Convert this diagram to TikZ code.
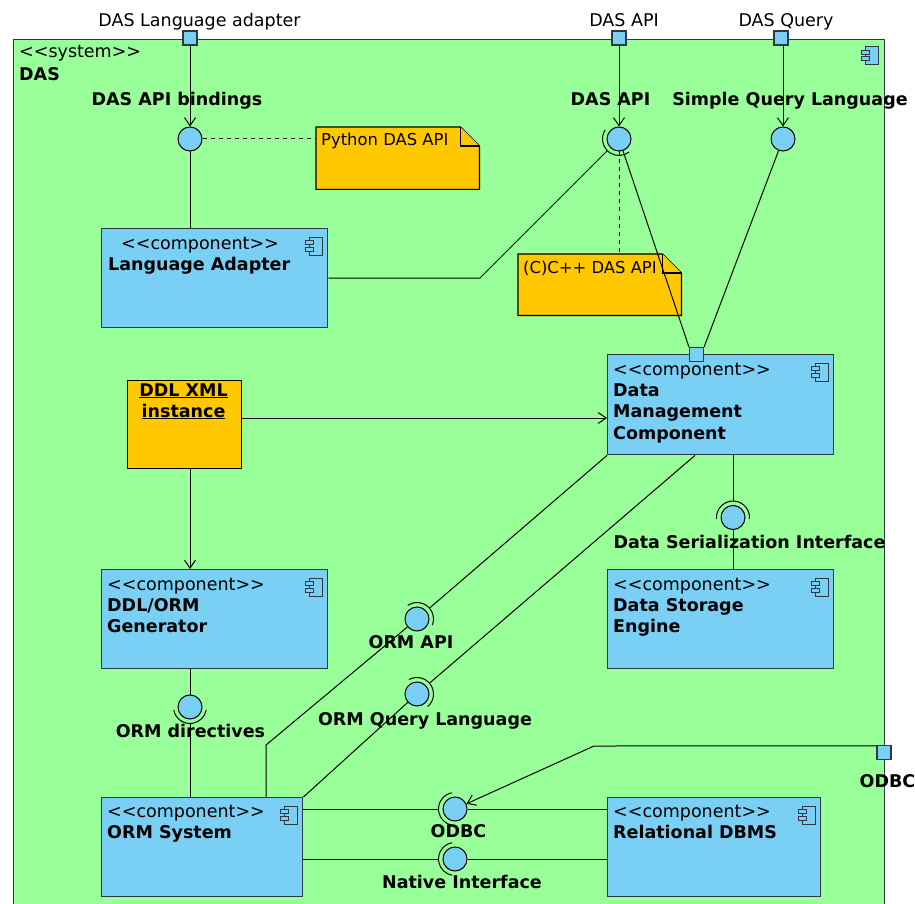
\documentclass[tikz,border=0pt]{standalone}
\usepackage{fontspec}
\setmainfont{DejaVu Sans}
\usetikzlibrary{arrows.meta,calc}
\definecolor{dasgreen}{HTML}{99FF99}
\definecolor{compblue}{HTML}{7ACFF5}
\definecolor{noteorange}{HTML}{FFC800}
\definecolor{edgegray}{HTML}{2E3742}
% UML stereotype brackets, kept apart so they are not turned into guillemets
\newcommand{\stereo}[1]{<\kern0pt<#1>\kern0pt>}
\begin{document}
\begin{tikzpicture}[x=1pt,y=-1pt,
  every node/.style={font=\fontsize{17.5}{21.5}\selectfont},
  frame/.style={draw=edgegray, fill=dasgreen, line width=1.4pt, anchor=north west,
    inner sep=0, minimum width=871pt, minimum height=900pt},
  comp/.style={draw=edgegray, fill=compblue, line width=1.4pt, anchor=north west,
    inner sep=0, minimum width=226pt, minimum height=99pt},
  port/.style={draw=edgegray, fill=compblue, line width=1.2pt, inner sep=0, minimum size=14pt},
  iface/.style={draw=black, fill=compblue, line width=1pt, circle, inner sep=0, minimum size=24pt},
  txt/.style={anchor=base west, inner sep=0},
  ttl/.style={anchor=base west, inner sep=0, font=\fontsize{17.5}{21.5}\selectfont\bfseries},
  ilabel/.style={anchor=base, inner sep=0, font=\fontsize{17.5}{21.5}\selectfont\bfseries},
  plabel/.style={anchor=base, inner sep=0},
  wire/.style={draw=black, line width=1pt},
  dep/.style={wire, -{Straight Barb[length=8pt,width=11pt]}},
  noteline/.style={wire, dash pattern=on 4pt off 4pt},
  socket/.style={draw=black, line width=1pt},
  notebox/.style={anchor=north west, inner sep=0, minimum width=163pt, minimum height=62pt},
  notetxt/.style={anchor=base west, inner sep=0, font=\fontsize{16.4}{20}\selectfont},
  notefill/.style={draw=black, fill=noteorange, line width=1.2pt, line join=miter},
  compicon/.pic={
    \draw[edgegray, line width=1pt, fill=compblue] (4,0) rectangle (17,18);
    \draw[edgegray, line width=1pt, fill=compblue] (0,3.5) rectangle (8,7.5);
    \draw[edgegray, line width=1pt, fill=compblue] (0,10) rectangle (8,14);
  }
]
\useasboundingbox (0,0) rectangle (915,904);
\fill[white] (0,0) rectangle (915,904);
\clip (0,0) rectangle (915,904);

% ---- system frame ----
\node[frame] (das) at (13,39) {};
\pic at ($(das.north east)+(-24,8)$) {compicon};
\node[txt] (sysst) at (19,58) {\stereo{system}};
\node[ttl] (sysname) at (19,81) {DAS};

% ---- external ports ----
\node[port] (pla) at (190,38) {};
\node[port] (papi) at (619,38) {};
\node[port] (pq) at (781,38) {};
\node[port] (podbc) at (884,752.5) {};
\node[plabel] (plalbl) at (199.5,27) {DAS Language adapter};
\node[plabel] (papilbl) at (624,27) {DAS API};
\node[plabel] (pqlbl) at (786,27) {DAS Query};
\node[ilabel] (podbclbl) at (887.5,787) {ODBC};

% ---- notes ----
\node[notebox] (pyn) at (316,127) {};
\draw[notefill] (pyn.north west) -- ($(pyn.north east)+(-19,0)$) -- ($(pyn.north east)+(0,19)$)
  -- (pyn.south east) -- (pyn.south west) -- cycle;
\draw[notefill] ($(pyn.north east)+(-19,0)$) -- ($(pyn.north east)+(-19,19)$) -- ($(pyn.north east)+(0,19)$);
\node[notetxt] (pytxt) at (321,146) {Python DAS API};

\node[notebox, minimum height=61pt] (cpn) at (518,254) {};
\draw[notefill] (cpn.north west) -- ($(cpn.north east)+(-19,0)$) -- ($(cpn.north east)+(0,19)$)
  -- (cpn.south east) -- (cpn.south west) -- cycle;
\draw[notefill] ($(cpn.north east)+(-19,0)$) -- ($(cpn.north east)+(-19,19)$) -- ($(cpn.north east)+(0,19)$);
\node[notetxt] (cptxt) at (523,273) {(C)C++ DAS API};

% ---- DDL XML instance object ----
\node[draw=black, fill=noteorange, line width=1.2pt, anchor=north west, inner sep=0,
  minimum width=114pt, minimum height=88pt] (ddl) at (127,380) {};
\node[ilabel] (ddl1) at (183.5,396) {\underline{DDL XML}};
\node[ilabel] (ddl2) at (183.5,417) {\underline{instance}};

% ---- components ----
\node[comp] (la) at (101,228) {};
\pic at ($(la.north east)+(-23,9)$) {compicon};
\node[txt] (last) at (121,249) {\stereo{component}};
\node[ttl] (lanm) at (108,270) {Language Adapter};

\node[comp, minimum height=100pt] (dm) at (607,354) {};
\pic at ($(dm.north east)+(-23,9)$) {compicon};
\node[txt] (dmst) at (613,375) {\stereo{component}};
\node[ttl] (dmnm1) at (613,396) {Data};
\node[ttl] (dmnm2) at (613,417.5) {Management};
\node[ttl] (dmnm3) at (613,439) {Component};
\node[port] (dmport) at (696.5,354.5) {};

\node[comp] (gen) at (101,569) {};
\pic at ($(gen.north east)+(-23,9)$) {compicon};
\node[txt] (genst) at (107,590) {\stereo{component}};
\node[ttl] (gennm1) at (107,611) {DDL/ORM};
\node[ttl] (gennm2) at (107,632) {Generator};

\node[comp] (dse) at (607,569) {};
\pic at ($(dse.north east)+(-23,9)$) {compicon};
\node[txt] (dsest) at (613,590) {\stereo{component}};
\node[ttl] (dsenm1) at (613,611) {Data Storage};
\node[ttl] (dsenm2) at (613,632) {Engine};

\node[comp, minimum width=201pt] (orm) at (101,797) {};
\pic at ($(orm.north east)+(-23,9)$) {compicon};
\node[txt] (ormst) at (107,817.5) {\stereo{component}};
\node[ttl] (ormnm) at (107,838.5) {ORM System};

\node[comp, minimum width=213pt] (rdb) at (607,797) {};
\pic at ($(rdb.north east)+(-23,9)$) {compicon};
\node[txt] (rdbst) at (613,817.5) {\stereo{component}};
\node[ttl] (rdbnm) at (613,838.5) {Relational DBMS};

% ---- interfaces ----
\node[iface] (bind) at (190,139) {};
\node[iface] (apic) at (619,139) {};
\node[iface] (sql) at (783,139) {};
\node[iface] (dsi) at (733,517.5) {};
\node[iface] (ormapi) at (417,619) {};
\node[iface] (ormql) at (417,694) {};
\node[iface] (ormdir) at (190,707) {};
\node[iface] (odbcif) at (455,809) {};
\node[iface] (nativeif) at (455,859) {};

\node[ilabel] (bindlbl) at (177,106) {DAS API bindings};
\node[ilabel] (apilbl) at (610.5,106) {DAS API};
\node[ilabel] (sqllbl) at (790,106) {Simple Query Language};
\node[ilabel] (dsilbl) at (749.5,548) {Data Serialization Interface};
\node[ilabel] (ormapilbl) at (411,648) {ORM API};
\node[ilabel] (ormqllbl) at (425,725) {ORM Query Language};
\node[ilabel] (ormdirlbl) at (190.5,737) {ORM directives};
\node[ilabel] (odbclbl) at (458.5,837) {ODBC};
\node[ilabel] (nativelbl) at (462,888) {Native Interface};

% ---- sockets (required interfaces) ----
\draw[socket] ($(apic)+(147:16.5pt)$) arc[start angle=147, end angle=308, radius=16.5pt];
\draw[socket] ($(dsi)+(-5:16.5pt)$) arc[start angle=-5, end angle=185, radius=16.5pt];
\draw[socket] ($(ormapi)+(-22:16.5pt)$) arc[start angle=-22, end angle=124, radius=16.5pt];
\draw[socket] ($(ormql)+(-50:16.5pt)$) arc[start angle=-50, end angle=119, radius=16.5pt];
\draw[socket] ($(ormdir)+(190:16.5pt)$) arc[start angle=190, end angle=350, radius=16.5pt];
\draw[socket] ($(odbcif)+(100:16.5pt)$) arc[start angle=100, end angle=260, radius=16.5pt];
\draw[socket] ($(nativeif)+(100:16.5pt)$) arc[start angle=100, end angle=260, radius=16.5pt];

% ---- connectors ----
\draw[dep] (pla) -- (bind);
\draw[wire] (bind) -- (bind |- la.north);
\draw[noteline] (bind) -- (pyn.west |- bind);

\draw[dep] (papi) -- (apic);
\draw[noteline] (apic) -- (apic |- cpn.north);
\draw[wire] (apic) -- (dmport.north west);
\coordinate (labend) at (480,278);
\draw[wire] (la.east |- labend) -- (labend) -- ($(apic)+(225:16.5pt)$);

\draw[dep] (pq.south -| sql) -- (sql);
\draw[wire] (sql) -- (dmport.north east);

\draw[dep] ($(ddl.north east)+(0,38)$) -- ($(dm.north west)+(0,64)$);
\draw[dep] ($(ddl.south west)+(63,0)$) -- ($(gen.north west)+(89,0)$);

\draw[wire] (dm.south -| dsi) -- ($(dsi)+(0,-16.5)$);
\draw[wire] (dsi) -- (dsi |- dse.north);

\draw[wire] (dm.south west) -- ($(ormapi)+(41:16.5pt)$);
\coordinate (ormbend) at (266,745);
\draw[wire] (ormapi) -- (ormbend) -- (ormbend |- orm.north);

\draw[wire] ($(dm.south west)+(88,0)$) -- ($(ormql)+(41:16.5pt)$);
\draw[wire] (ormql) -- (orm.north east);

\draw[wire] (gen.south -| ormdir) -- (ormdir);
\draw[wire] ($(ormdir)+(0,16.5)$) -- (ormdir |- orm.north);

\draw[wire] ($(orm.north east)+(0,12)$) -- ($(odbcif)+(-16.5,0)$);
\draw[wire] (odbcif) -- (odbcif -| rdb.west);
\draw[wire] ($(orm.north east)+(0,62)$) -- ($(nativeif)+(-16.5,0)$);
\draw[wire] (nativeif) -- (nativeif -| rdb.west);

\coordinate (odbcbend) at (594,746);
\draw[dep] ($(podbc.north west)+(0,1)$) -- (odbcbend) -- (odbcif);
\end{tikzpicture}
\end{document}
